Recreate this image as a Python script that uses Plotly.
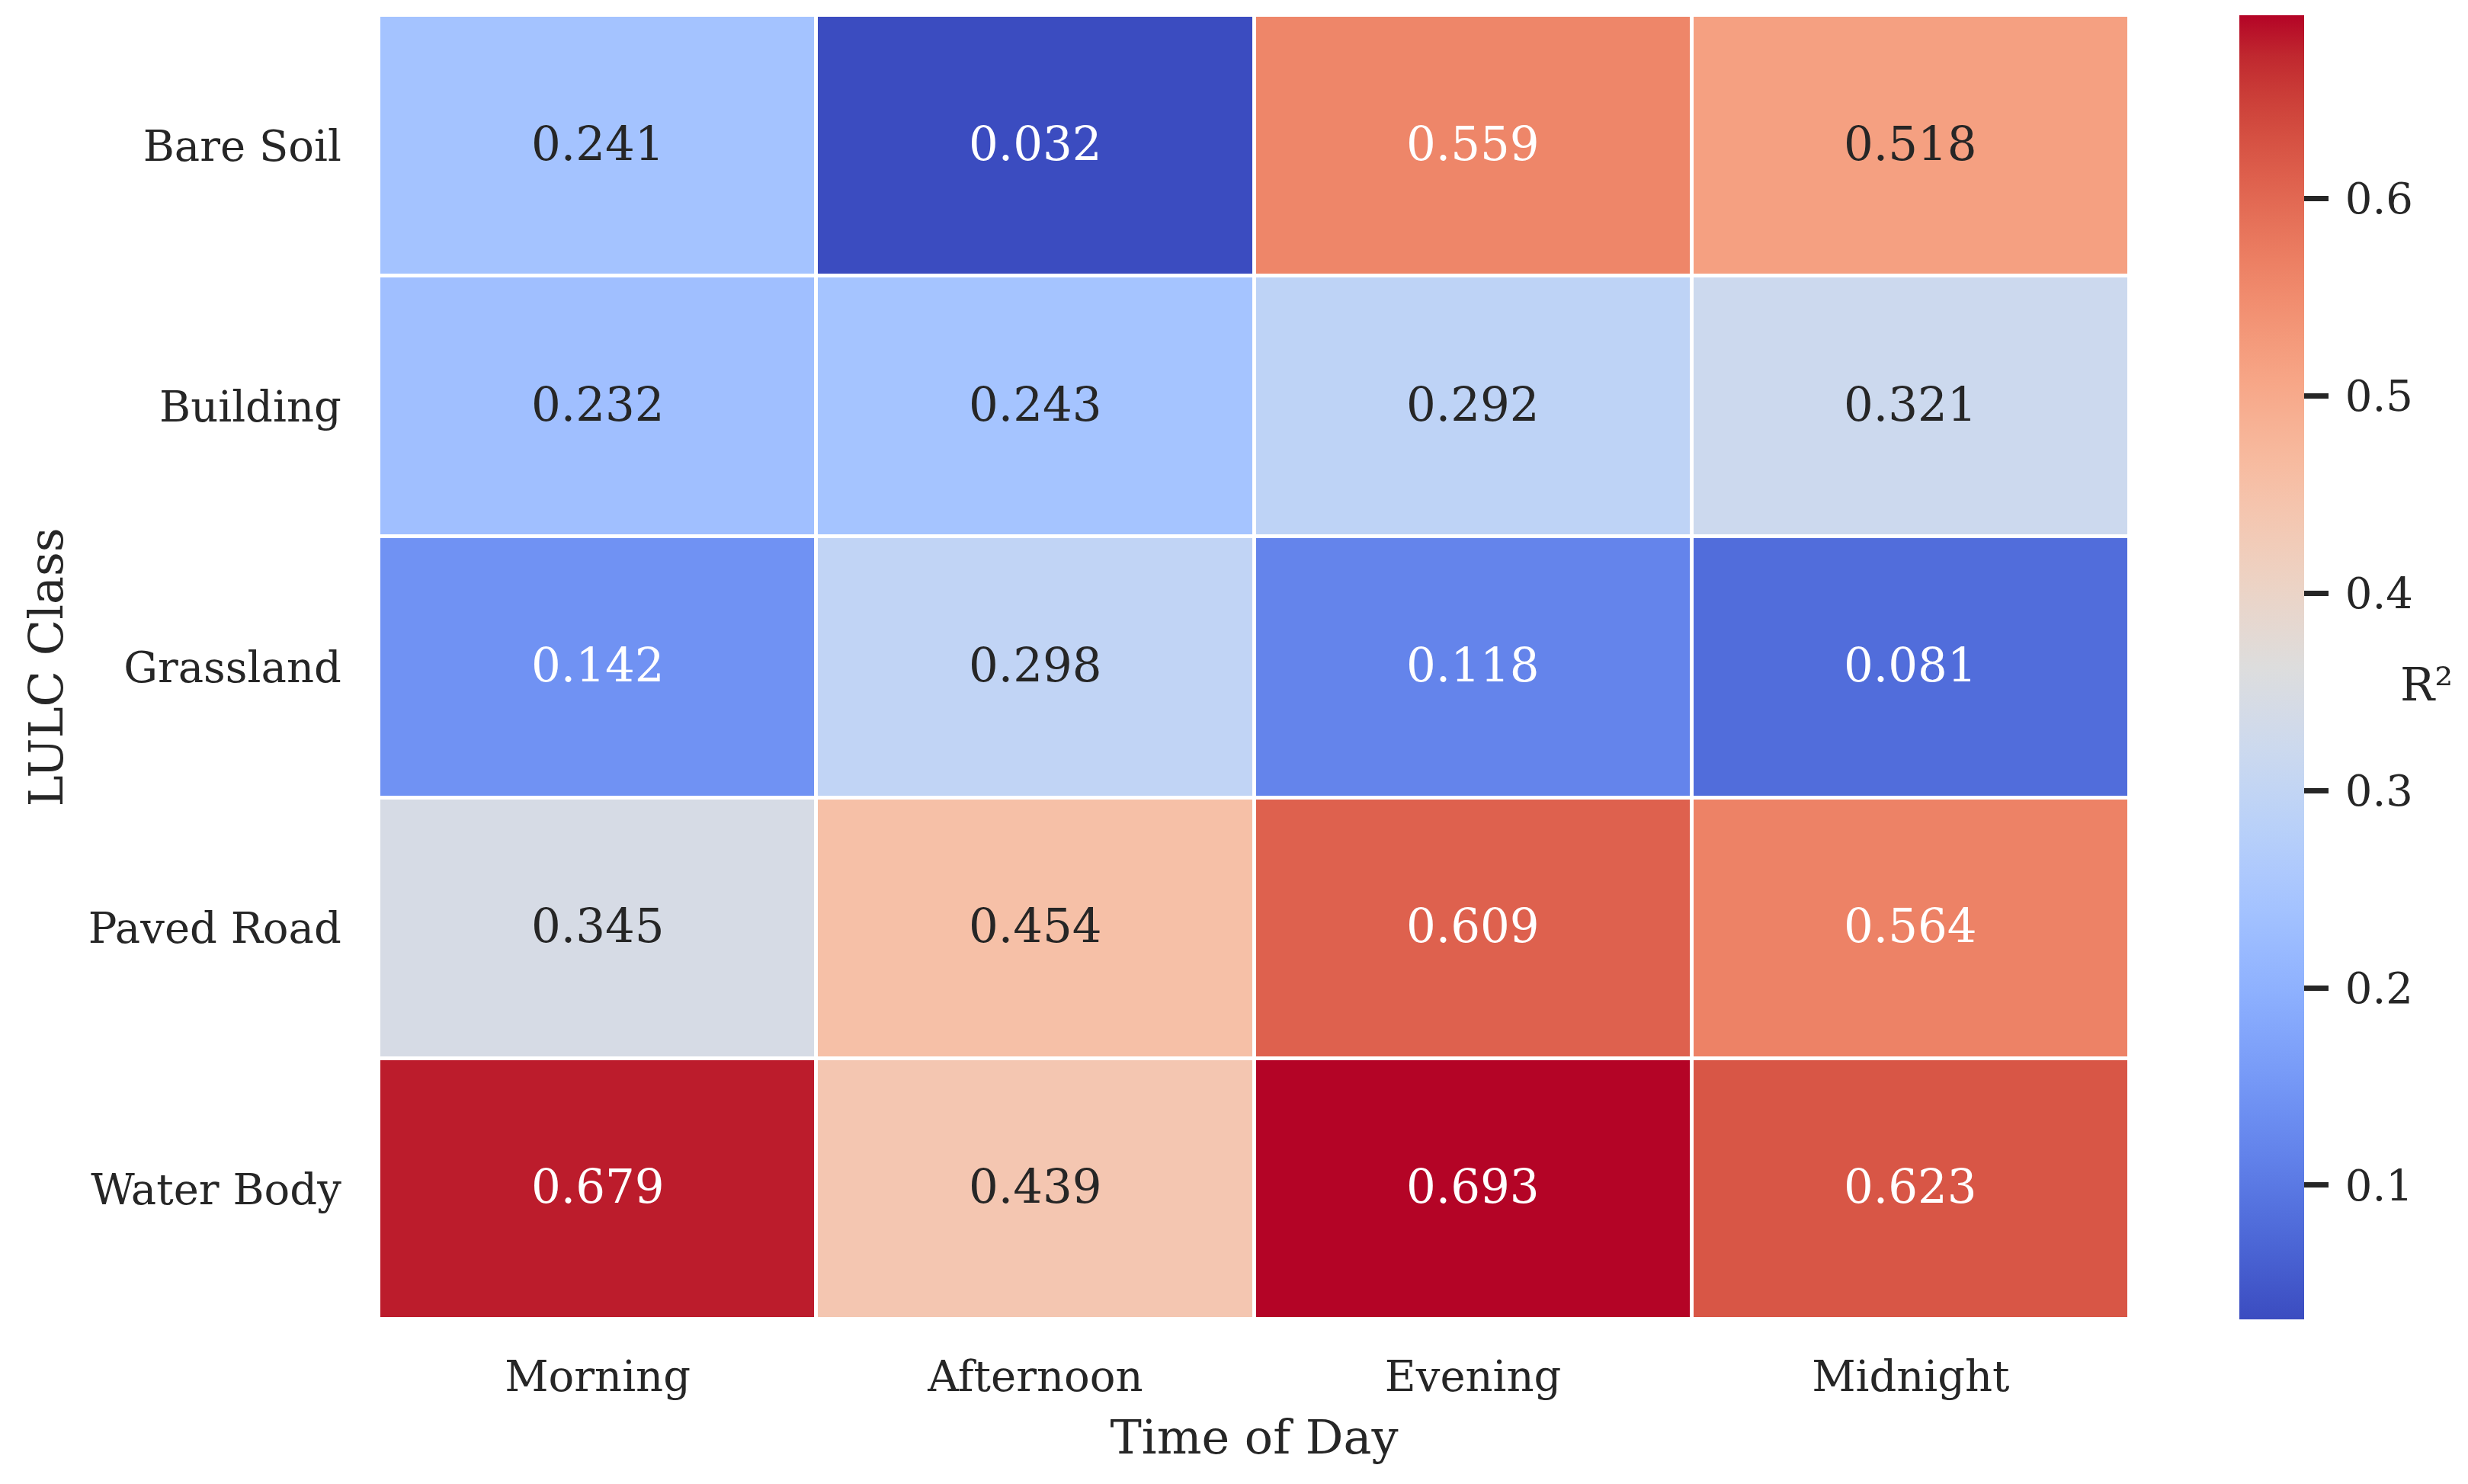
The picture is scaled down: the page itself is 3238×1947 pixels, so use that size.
import plotly.graph_objects as go

times = ["Morning", "Afternoon", "Evening", "Midnight"]
classes = ["Bare Soil", "Building", "Grassland", "Paved Road", "Water Body"]
r2_morning = [0.241, 0.232, 0.142, 0.345, 0.679]
r2_afternoon = [0.032, 0.243, 0.298, 0.454, 0.439]
r2_evening = [0.559, 0.292, 0.118, 0.609, 0.693]
r2_midnight = [0.518, 0.321, 0.081, 0.564, 0.623]
cbar_ticks = [0.1, 0.2, 0.3, 0.4, 0.5, 0.6]

cols = [r2_morning, r2_afternoon, r2_evening, r2_midnight]
z = [[cols[j][i] for j in range(len(times))] for i in range(len(classes))]

# Moreland / matplotlib coolwarm
cw = [
    (59, 76, 192), (68, 90, 204), (77, 104, 215), (87, 117, 225), (98, 130, 234),
    (108, 142, 241), (119, 154, 247), (130, 165, 251), (141, 176, 254), (152, 185, 255),
    (163, 194, 255), (174, 201, 253), (184, 208, 249), (194, 213, 244), (204, 217, 238),
    (213, 219, 230), (221, 221, 221), (229, 216, 209), (236, 211, 197), (241, 204, 185),
    (245, 196, 173), (247, 187, 160), (247, 177, 148), (247, 166, 135), (244, 154, 123),
    (241, 141, 111), (236, 127, 99), (229, 112, 88), (222, 96, 77), (213, 80, 66),
    (203, 62, 56), (192, 40, 47), (180, 4, 38),
]
n = len(cw) - 1
colorscale = [[k / n, "rgb(%d,%d,%d)" % c] for k, c in enumerate(cw)]

zmin = min(min(r) for r in z)
zmax = max(max(r) for r in z)


def color_at(v):
    t = (v - zmin) / (zmax - zmin)
    t = min(max(t, 0), 1) * n
    k = min(int(t), n - 1)
    f = t - k
    return [cw[k][i] + (cw[k + 1][i] - cw[k][i]) * f for i in range(3)]


def lum(rgb):
    out = []
    for c in rgb:
        c = c / 255
        out.append(c / 12.92 if c <= 0.03928 else ((c + 0.055) / 1.055) ** 2.4)
    return 0.2126 * out[0] + 0.7152 * out[1] + 0.0722 * out[2]


FONT = "DejaVu Serif"
DARK = "#262626"

fig = go.Figure()
fig.add_trace(go.Heatmap(
    z=z, x=times, y=classes,
    colorscale=colorscale, zmin=zmin, zmax=zmax,
    xgap=5, ygap=5,
    colorbar=dict(
        x=1.0627, xanchor="left", xpad=0, ypad=0,
        y=0.5, yanchor="middle", len=1.0, lenmode="fraction",
        thickness=85, outlinewidth=0,
        tickvals=cbar_ticks, ticktext=["\u2009%.1f" % t for t in cbar_ticks],
        ticks="outside", ticklen=32, tickwidth=7, tickcolor=DARK,
        tickfont=dict(family=FONT, size=56, color=DARK),
    ),
    hoverinfo="skip",
))

for i, c in enumerate(classes):
    for j, t in enumerate(times):
        v = z[i][j]
        col = DARK if lum(color_at(v)) > 0.408 else "white"
        fig.add_annotation(x=t, y=c, text="%.3f" % v, showarrow=False, yshift=3,
                           font=dict(family=FONT, size=61, color=col))

fig.add_annotation(xref="paper", yref="paper", x=1.1694, y=0.487, xanchor="center", yanchor="middle",
                   text="R²", showarrow=False, font=dict(family=FONT, size=60, color=DARK))

fig.update_layout(
    width=3238, height=1947,
    margin=dict(l=497, r=444, t=20, b=216, autoexpand=False),
    paper_bgcolor="white", plot_bgcolor="white",
    font=dict(family=FONT, color=DARK),
    xaxis=dict(
        title=dict(text="Time of Day", font=dict(family=FONT, size=62, color=DARK), standoff=26),
        tickfont=dict(family=FONT, size=56, color=DARK),
        ticks="outside", ticklen=26, tickcolor="rgba(0,0,0,0)",
        showgrid=False, zeroline=False, showline=False,
    ),
    yaxis=dict(
        title=dict(text="LULC Class", font=dict(family=FONT, size=62, color=DARK), standoff=13),
        tickfont=dict(family=FONT, size=56, color=DARK),
        ticks="outside", ticklen=37, tickcolor="rgba(0,0,0,0)",
        autorange="reversed",
        showgrid=False, zeroline=False, showline=False,
    ),
)

fig.write_html("out.html", config={"displayModeBar": False},
               post_script="document.body.style.margin='0px';")
